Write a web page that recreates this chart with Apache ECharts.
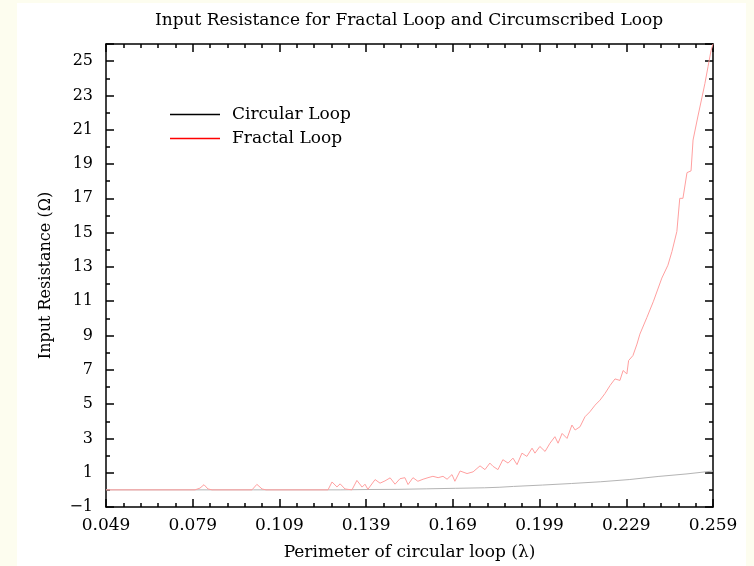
<!DOCTYPE html>
<html>
<head>
<meta charset="utf-8">
<script src="https://cdn.jsdelivr.net/npm/echarts@6/dist/echarts.min.js"></script>
<style>
html,body{margin:0;padding:0;background:#fdfdef;}
#chart{width:754px;height:566px;}
</style>
</head>
<body>
<div id="chart"></div>
<script>
const titleText = 'Input Resistance for Fractal Loop and Circumscribed Loop';
const xName = 'Perimeter of circular loop (\u03bb)';
const yName = 'Input Resistance (\u03a9)';
const seriesNames = ['Circular Loop', 'Fractal Loop'];

const xMin = 0.049, xMax = 0.259, xStep = 0.03;
const yMin = -1, yMax = 26, yStep = 2;

const circularX = [0.049, 0.100, 0.130, 0.140, 0.150, 0.160, 0.170, 0.180, 0.185, 0.190, 0.200, 0.210, 0.220, 0.230, 0.240, 0.250, 0.259];
const circularY = [0.0, 0.0, 0.0, 0.02, 0.03, 0.06, 0.09, 0.12, 0.15, 0.2, 0.28, 0.37, 0.47, 0.6, 0.78, 0.93, 1.1];

const fractalX = [0.049, 0.0798, 0.0815, 0.0829, 0.0843, 0.0857, 0.0995, 0.1012, 0.1030, 0.1044, 0.1258,
  0.1272, 0.1289, 0.1300, 0.1317, 0.1341, 0.1358, 0.1376, 0.1386, 0.1396, 0.1421, 0.1438, 0.1455, 0.1473,
  0.1490, 0.1507, 0.1524, 0.1535, 0.1552, 0.1569, 0.1587, 0.1604, 0.1621, 0.1639, 0.1656, 0.1670, 0.1687,
  0.1697, 0.1715, 0.1739, 0.1760, 0.1784, 0.1801, 0.1818, 0.1829, 0.1846, 0.1863, 0.1881, 0.1898, 0.1912,
  0.1929, 0.1946, 0.1964, 0.1974, 0.1991, 0.2009, 0.2026, 0.2043, 0.2054, 0.2068, 0.2085, 0.2102, 0.2113,
  0.2130, 0.2147, 0.2164, 0.2182, 0.2199, 0.2216, 0.2234, 0.2251, 0.2268, 0.2279, 0.2292, 0.2298, 0.2313,
  0.2327, 0.2337, 0.2361, 0.2384, 0.2413, 0.2434, 0.2448, 0.2465, 0.2475, 0.2486, 0.2500, 0.2514, 0.2521,
  0.2538, 0.2552, 0.2562, 0.2573, 0.2583, 0.2590];
const fractalY = [0, 0, 0.1, 0.3, 0.05, 0, 0, 0.32, 0.05, 0, 0,
  0.46, 0.17, 0.35, 0.05, 0.0, 0.55, 0.16, 0.33, 0.03, 0.6, 0.39, 0.52, 0.7,
  0.33, 0.65, 0.71, 0.31, 0.71, 0.5, 0.62, 0.71, 0.79, 0.71, 0.79, 0.62, 0.89,
  0.5, 1.1, 0.95, 1.05, 1.4, 1.18, 1.56, 1.37, 1.18, 1.76, 1.56, 1.85, 1.47,
  2.14, 1.95, 2.43, 2.14, 2.53, 2.24, 2.72, 3.1, 2.72, 3.29, 3.0, 3.78, 3.49,
  3.68, 4.26, 4.55, 4.94, 5.23, 5.61, 6.09, 6.47, 6.38, 6.96, 6.76, 7.54, 7.83,
  8.5, 9.08, 10.04, 11.0, 12.35, 13.1, 13.9, 15.07, 17.0, 17.0, 18.5, 18.6, 20.4,
  21.8, 22.9, 23.7, 24.7, 25.6, 26.0];

const zip = (xs, ys) => xs.map((x, i) => [x, ys[i]]);

const FONT = 'DejaVu Serif';
const axisLineStyle = {color: '#000', width: 1.5};

function xAxisDef(pos, showLabel) {
  return {
    type: 'value', position: pos, min: xMin, max: xMax, interval: xStep,
    name: showLabel ? xName : '', nameLocation: 'middle', nameGap: 37,
    nameTextStyle: {fontFamily: FONT, fontSize: 17, color: '#000'},
    axisLine: {show: true, onZero: false, lineStyle: axisLineStyle},
    axisTick: {show: true, inside: true, length: 8, lineStyle: {color: '#000', width: 1.5}},
    minorTick: {show: true, splitNumber: 5, length: 4, lineStyle: {color: '#000', width: 1.5}},
    splitLine: {show: false},
    axisLabel: {show: showLabel, margin: 10, fontFamily: FONT, fontSize: 17, color: '#000',
      formatter: v => v.toFixed(3)},
  };
}
function yAxisDef(pos, showLabel) {
  return {
    type: 'value', position: pos, min: yMin, max: yMax, interval: yStep,
    name: showLabel ? yName : '', nameLocation: 'middle', nameGap: 52,
    nameTextStyle: {fontFamily: FONT, fontSize: 16, color: '#000'},
    axisLine: {show: true, onZero: false, lineStyle: axisLineStyle},
    axisTick: {show: true, inside: true, length: 8, lineStyle: {color: '#000', width: 1.5}},
    minorTick: {show: true, splitNumber: 2, length: 4, lineStyle: {color: '#000', width: 1.5}},
    splitLine: {show: false},
    axisLabel: {show: showLabel, margin: 13, fontFamily: FONT, fontSize: 16, color: '#000',
      showMaxLabel: false,
      formatter: v => (v < 0 ? '\u2212' + Math.abs(v) : String(v))},
  };
}

const chart = echarts.init(document.getElementById('chart'));
chart.setOption({
  backgroundColor: '#fdfdef',
  animation: false,
  graphic: [{type: 'rect', z: -10, silent: true, shape: {x: 17, y: 3, width: 729, height: 563}, style: {fill: '#ffffff'}}],
  title: {
    text: titleText, left: 404, top: 7, textAlign: 'center',
    textStyle: {fontFamily: FONT, fontSize: 17, fontWeight: 'normal', color: '#000'}
  },
  legend: {
    orient: 'vertical', left: 165, top: 101, itemWidth: 50, itemHeight: 1.5, itemGap: 7,
    icon: 'rect',
    textStyle: {fontFamily: FONT, fontSize: 17, color: '#000', padding: [0, 0, 0, 7]},
    data: [
      {name: seriesNames[0], itemStyle: {color: '#000'}},
      {name: seriesNames[1], itemStyle: {color: '#f00'}}
    ]
  },
  grid: {left: 106, right: 41, top: 44, bottom: 55, containLabel: false},
  xAxis: [xAxisDef('bottom', true), xAxisDef('top', false)],
  yAxis: [yAxisDef('left', true), yAxisDef('right', false)],
  series: [
    {name: seriesNames[0], type: 'line', symbol: 'none', data: zip(circularX, circularY),
      itemStyle: {color: '#000'}, lineStyle: {color: '#b4b4b4', width: 1}},
    {name: seriesNames[1], type: 'line', symbol: 'none', data: zip(fractalX, fractalY),
      itemStyle: {color: '#f00'}, lineStyle: {color: '#ff9f9f', width: 1}}
  ]
});
</script>
</body>
</html>
